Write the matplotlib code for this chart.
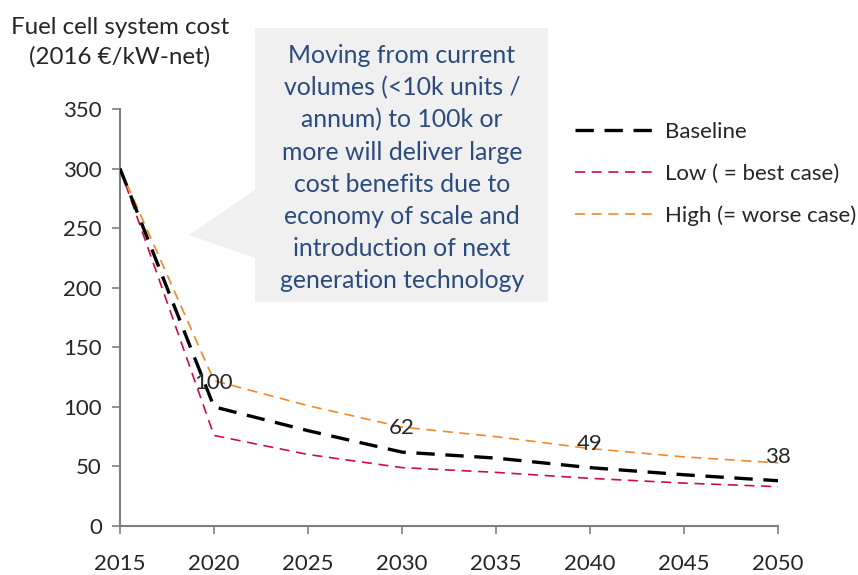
import matplotlib.pyplot as plt
from matplotlib.patches import Polygon

plt.rcParams['font.family'] = ['Lato', 'DejaVu Sans']

# Data
years = [2015, 2020, 2025, 2030, 2035, 2040, 2045, 2050]
baseline = [300, 100, 80, 62, 57, 49, 43, 38]
low = [300, 76, 60, 49, 45, 40, 36, 33]
high = [300, 122, 101, 83, 75, 65, 58, 53]
label_years = [2020, 2030, 2040, 2050]
label_values = [100, 62, 49, 38]
x_ticks = [2015, 2020, 2025, 2030, 2035, 2040, 2045, 2050]
y_ticks = [0, 50, 100, 150, 200, 250, 300, 350]

callout = ("Moving from current\nvolumes (<10k units /\nannum) to 100k or\n"
           "more will deliver large\ncost benefits due to\neconomy of scale and\n"
           "introduction of next\ngeneration technology")

W, H = 858, 575
fig = plt.figure(figsize=(W / 100, H / 100), dpi=100)
ax = fig.add_axes([120 / W, 1 - 526 / H, (778 - 120) / W, (526 - 109) / H])

gray = '#7f7f7f'
text_col = '#262626'

ax.plot(years, baseline, color='black', lw=2.4, dashes=(5.5, 3.2), label='Baseline', zorder=4)
ax.plot(years, low, color='#cc0d48', lw=1.2, dashes=(6, 4), label='Low ( = best case)', zorder=3)
ax.plot(years, high, color='#f0892a', lw=1.2, dashes=(6, 4), label='High (= worse case)', zorder=3)

for yr, v in zip(label_years, label_values):
    ax.annotate(str(v), (yr, v), xytext=(0, 24), textcoords='offset pixels',
                ha='center', va='center', fontsize=16, color=text_col, zorder=5)

ax.set_xlim(2015, 2050)
ax.set_ylim(0, 350)
ax.set_xticks(x_ticks)
ax.set_yticks(y_ticks)
ax.tick_params(labelsize=16, colors=gray, labelcolor=text_col, length=6, width=1.2)
ax.tick_params(axis='x', pad=14)
ax.tick_params(axis='y', pad=7)
for s in ['top', 'right']:
    ax.spines[s].set_visible(False)
for s in ['left', 'bottom']:
    ax.spines[s].set_color(gray)
    ax.spines[s].set_linewidth(1.5)

fig.text(120 / W, 1 - 42 / H, 'Fuel cell system cost\n(2016 €/kW-net)', ha='center', va='center',
         fontsize=17.4, color=text_col, linespacing=1.45)

# callout box with pointer
pts = [(255, 28), (548, 28), (548, 302), (255, 302), (255, 258), (189, 235), (255, 190)]
box = Polygon([(x / W, 1 - y / H) for x, y in pts], closed=True, transform=fig.transFigure,
              facecolor='#f0f0f0', edgecolor='none', zorder=1)
fig.patches.append(box)
fig.text(402 / W, 1 - 168 / H, callout, ha='center', va='center', fontsize=17.8,
         color='#2b4b7e', linespacing=1.48)

ax.legend(loc='upper left', bbox_to_anchor=(575 / W, 1 - 122 / H), bbox_transform=fig.transFigure,
          frameon=False, fontsize=16, handlelength=3.6, labelspacing=0.98, handletextpad=0.45,
          borderpad=0, borderaxespad=0, labelcolor=text_col)

fig.savefig('out.png', dpi=100)
